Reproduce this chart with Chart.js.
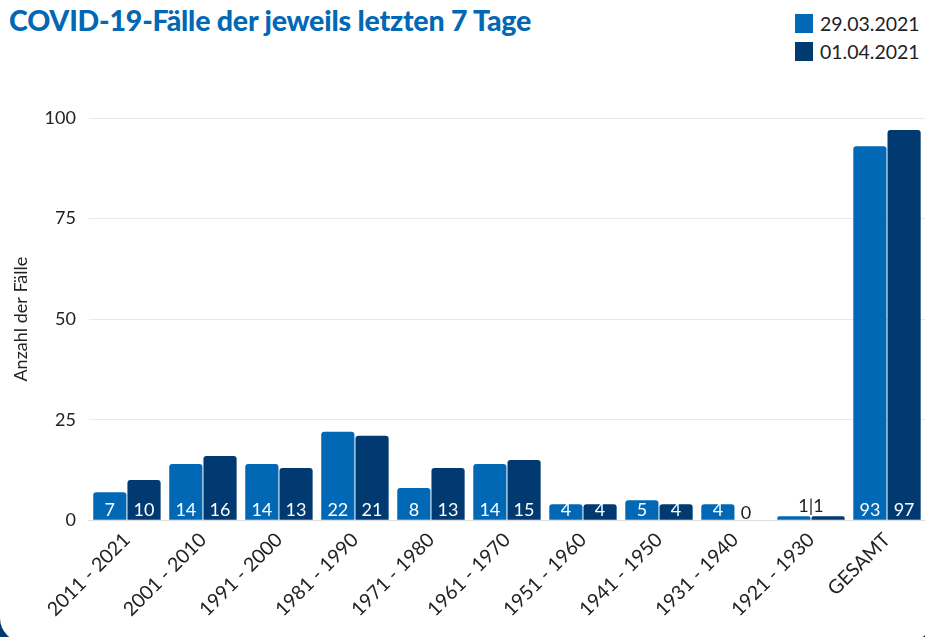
<!DOCTYPE html>
<html>
<head>
<meta charset="utf-8">
<script src="https://cdn.jsdelivr.net/npm/chart.js@4.4.1/dist/chart.umd.min.js"></script>
<style>
  html, body { margin: 0; padding: 0; }
  body { width: 925px; height: 637px; overflow: hidden; background: #003a70; position: relative; font-family: Lato, sans-serif; }
  .card { position: absolute; left: 0; top: -30px; width: 932px; height: 672px; background: #fff; border-radius: 24px; }
  .title { position: absolute; left: 9px; top: 3px; font-size: 28.5px; font-weight: 900; color: #0068b4; letter-spacing: -0.2px; }
  .legend { position: absolute; left: 795px; top: 9px; font-size: 19.5px; color: #222; }
  .legend div { display: flex; align-items: center; height: 28px; }
  .legend span.box { width: 18px; height: 19px; margin-right: 7px; display: inline-block; }
  #wrap { position: absolute; left: 0; top: 0; width: 925px; height: 637px; }
</style>
</head>
<body>
<div class="card"></div>
<div class="title">COVID-19-Fälle der jeweils letzten 7 Tage</div>
<div class="legend" id="legend"></div>
<div id="wrap"><canvas id="covidChart"></canvas></div>
<script>
const categories = ['2011 - 2021', '2001 - 2010', '1991 - 2000', '1981 - 1990', '1971 - 1980',
    '1961 - 1970', '1951 - 1960', '1941 - 1950', '1931 - 1940', '1921 - 1930', 'GESAMT'];
const seriesNames = ['29.03.2021', '01.04.2021'];
const values2903 = [7, 14, 14, 22, 8, 14, 4, 5, 4, 1, 93];
const values0104 = [10, 16, 13, 21, 13, 15, 4, 4, 0, 1, 97];
const yTicks = [0, 25, 50, 75, 100];
const colors = ['#0068b4', '#003a70'];

// legend in html, stacked like the original
const legendEl = document.getElementById('legend');
seriesNames.forEach(function(name, i) {
    const row = document.createElement('div');
    row.innerHTML = '<span class="box" style="background:' + colors[i] + '"></span>' + name;
    legendEl.appendChild(row);
});

// value labels drawn at the foot of each bar
const barLabels = {
    id: 'barLabels',
    afterDatasetsDraw(chart) {
        const ctx = chart.ctx;
        const metaA = chart.getDatasetMeta(0);
        const metaB = chart.getDatasetMeta(1);
        const base = chart.scales.y.getPixelForValue(0);
        ctx.save();
        ctx.font = '18px Lato, sans-serif';
        ctx.textAlign = 'center';
        ctx.textBaseline = 'alphabetic';
        categories.forEach(function(c, i) {
            const a = values2903[i], b = values0104[i];
            const barA = metaA.data[i], barB = metaB.data[i];
            if (a <= 1 && b <= 1 && a > 0 && b > 0) {
                ctx.fillStyle = '#222';
                const mid = (barA.x + barB.x) / 2;
                ctx.fillText(a + '|' + b, mid, base - 8);
                return;
            }
            [[a, barA], [b, barB]].forEach(function(p) {
                if (p[0] === 0) {
                    ctx.fillStyle = '#222';
                    ctx.fillText('0', p[1].x - 6, base - 1);
                } else {
                    ctx.fillStyle = '#fff';
                    ctx.fillText(String(p[0]), p[1].x, base - 4);
                }
            });
        });
        ctx.restore();
    }
};

const config = {
    type: 'bar',
    data: {
        labels: categories,
        datasets: [{
            label: seriesNames[0],
            data: values2903,
            backgroundColor: colors[0],
            borderRadius: { topLeft: 3, topRight: 3 },
            borderSkipped: 'start',
            barPercentage: 0.97,
            categoryPercentage: 0.9
        }, {
            label: seriesNames[1],
            data: values0104,
            backgroundColor: colors[1],
            borderRadius: { topLeft: 3, topRight: 3 },
            borderSkipped: 'start',
            barPercentage: 0.97,
            categoryPercentage: 0.9
        }]
    },
    options: {
        responsive: true,
        maintainAspectRatio: false,
        animation: false,
        layout: { padding: { top: 118, right: 0, left: 10, bottom: 8 } },
        plugins: {
            legend: { display: false },
            tooltip: { enabled: false }
        },
        scales: {
            x: {
                grid: { display: false, drawTicks: false },
                border: { display: true, color: '#dddddd' },
                ticks: {
                    color: '#222',
                    font: { family: 'Lato', size: 19.5 },
                    maxRotation: 45,
                    minRotation: 45,
                    padding: 8
                }
            },
            y: {
                min: 0,
                max: 100,
                afterBuildTicks: function(axis) {
                    axis.ticks = yTicks.map(function(v) { return { value: v }; });
                },
                grid: { color: '#e8e8e8', drawTicks: false },
                border: { display: false },
                ticks: {
                    color: '#222',
                    font: { family: 'Lato', size: 18 },
                    padding: 13
                },
                title: {
                    display: true,
                    text: 'Anzahl der Fälle',
                    color: '#222',
                    font: { family: 'Lato', size: 18 },
                    padding: { top: 0, bottom: 0 }
                }
            }
        }
    },
    plugins: [barLabels]
};

window.onload = function() {
    const ctx = document.getElementById('covidChart').getContext('2d');
    new Chart(ctx, config);
};
</script>
</body>
</html>
